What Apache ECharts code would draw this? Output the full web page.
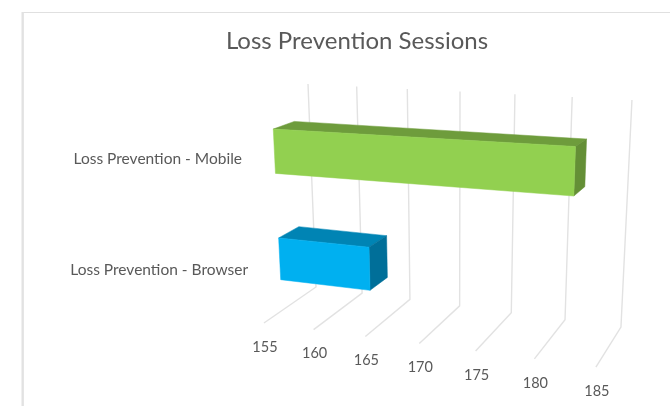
<!DOCTYPE html>
<html><head><meta charset="utf-8">
<style>html,body{margin:0;padding:0;background:#fff}#c{width:670px;height:406px}</style>
<script src="https://cdn.jsdelivr.net/npm/echarts@6/dist/echarts.min.js"></script>
</head><body><div id="c"></div>
<script>
const categories = ['Loss Prevention - Browser', 'Loss Prevention - Mobile'];
const sessions = [164, 182];
const tickValues = [155, 160, 165, 170, 175, 180, 185];
const faceColors = [
  {front: '#00b0f0', top: '#0084b4', side: '#006f99'},
  {front: '#92d050', top: '#6e9c3c', side: '#648f36'}
];

// Perspective camera: maps plot fractions (u along value axis, h up the wall, d towards viewer) to the page
const cam = {a: -0.1096, b: -0.0549, c: -0.0896, x0: 316, xu: 236.9, xh: -24.9, xd: -75.7, y0: 287, yu: 4.16, yh: -207.6, yd: 7.06, yud: -4.3};
function project(u, h, d) {
  const w = 1 + cam.a * u + cam.b * h + cam.c * d;
  return [
    (cam.x0 + cam.xu * u + cam.xh * h + cam.xd * d) / w,
    (cam.y0 + cam.yu * u + cam.yh * h + cam.yd * d + cam.yud * u * d) / w
  ];
}
const barDepth = [0.29, 0.67];
const barBandShare = 0.4;

function fractions(params, api, v, i) {
  const g = params.coordSys;
  const p = api.coord([v, i]);
  return [(p[0] - g.x) / g.width, (g.y + g.height - p[1]) / g.height, api.size([0, 1])[1] / g.height];
}

const chart = echarts.init(document.getElementById('c'), null, {renderer: 'canvas'});
chart.setOption({
  animation: false,
  backgroundColor: '#fff',
  title: {
    text: 'Loss Prevention Sessions', left: 352, top: 24, textAlign: 'center',
    textStyle: {fontFamily: 'Lato', fontSize: 24, fontWeight: 'normal', color: '#595959'}
  },
  graphic: [
    {type: 'line', silent: true, shape: {x1: 22, y1: 12.5, x2: 670, y2: 12.5}, style: {stroke: '#e0e0e0', lineWidth: 1.2}},
    {type: 'line', silent: true, shape: {x1: 22.7, y1: 12, x2: 22.7, y2: 406}, style: {stroke: '#e2e2e2', lineWidth: 2.4}}
  ],
  grid: {left: 100, right: 100, top: 100, bottom: 100},
  xAxis: {type: 'value', min: 155, max: 185, interval: 5, show: false},
  yAxis: {type: 'category', data: categories, show: false},
  series: [
    {
      type: 'custom', coordinateSystem: 'cartesian2d', clip: false, silent: true, z: 1,
      data: tickValues.map(v => [v, 0]),
      renderItem(params, api) {
        const v = api.value(0);
        const u = fractions(params, api, v, 0)[0];
        const top = project(u, 1, 0), back = project(u, 0, 0), front = project(u, 0, 1);
        return {type: 'group', children: [
          {type: 'polyline', shape: {points: [top, back, front]}, style: {stroke: '#e2e2e2', lineWidth: 1.4, fill: null}},
          {type: 'text', style: {text: String(v), x: front[0] + 1, y: front[1] + 24, align: 'center', verticalAlign: 'middle', font: '14.5px Lato', fill: '#595959'}}
        ]};
      }
    },
    {
      type: 'custom', coordinateSystem: 'cartesian2d', clip: false, silent: true, z: 2,
      data: sessions.map((v, i) => [v, i]),
      renderItem(params, api) {
        const v = api.value(0), i = api.value(1);
        const f = fractions(params, api, v, i);
        const u0 = fractions(params, api, 155, i)[0], u1 = f[0];
        const half = f[2] * barBandShare / 2, h0 = f[1] - half, h1 = f[1] + half;
        const [db, df] = barDepth;
        const c = faceColors[i];
        const poly = (pts, fill) => ({type: 'polygon', shape: {points: pts.map(q => project(q[0], q[1], q[2]))}, style: {fill, stroke: fill, lineWidth: 0.5}});
        const anchor = project(u0, f[1], 1);
        return {type: 'group', children: [
          poly([[u0, h1, db], [u1, h1, db], [u1, h1, df], [u0, h1, df]], c.top),
          poly([[u1, h1, df], [u1, h1, db], [u1, h0, db], [u1, h0, df]], c.side),
          poly([[u0, h1, df], [u1, h1, df], [u1, h0, df], [u0, h0, df]], c.front),
          {type: 'text', style: {text: categories[i], x: anchor[0] - 13, y: anchor[1], align: 'right', verticalAlign: 'middle', font: '15.5px Lato', fill: '#595959'}}
        ]};
      }
    }
  ]
});
</script></body></html>
